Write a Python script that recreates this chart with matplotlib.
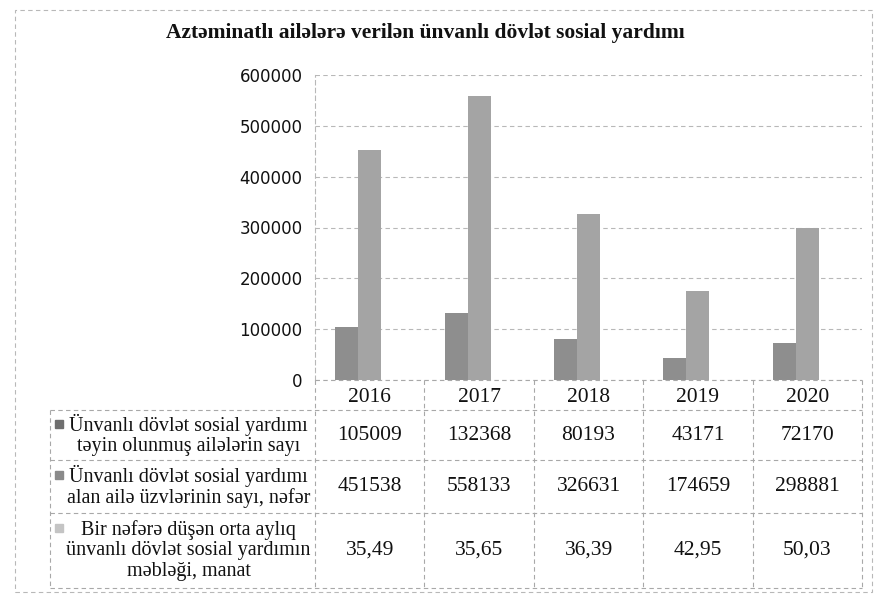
import matplotlib.pyplot as plt
from matplotlib.patches import Rectangle
from matplotlib.lines import Line2D

# data
years = ["2016", "2017", "2018", "2019", "2020"]
aile_sayi = [105009, 132368, 80193, 43171, 72170]
uzv_sayi = [451538, 558133, 326631, 174659, 298881]
orta_mebleg = [35.49, 35.65, 36.39, 42.95, 50.03]
series_labels = [
    "Ünvanlı dövlət sosial yardımı\ntəyin olunmuş ailələrin sayı",
    "Ünvanlı dövlət sosial yardımı\nalan ailə üzvlərinin sayı, nəfər",
    "Bir nəfərə düşən orta aylıq\nünvanlı dövlət sosial yardımın\nməbləği, manat",
]
yticks = [0, 100000, 200000, 300000, 400000, 500000, 600000]
title = "Aztəminatlı ailələrə verilən ünvanlı dövlət sosial yardımı"

colors = ["#8e8e8e", "#a4a4a4", "#cdcdcd"]
marker_colors = ["#6f6f6f", "#8a8a8a", "#c4c4c4"]
grid_c = "#b8b8b8"
serif = ["Liberation Serif", "DejaVu Serif"]

W, H = 879, 599
fig = plt.figure(figsize=(W / 100, H / 100), dpi=100)
fig.patch.set_facecolor("white")

def fx(x):
    return x / W

def fy(y):
    return 1 - y / H

# plot area in pixels
x0, x1 = 315, 862
y_top, y_bot = 75, 380
ax = fig.add_axes([fx(x0), fy(y_bot), (x1 - x0) / W, (y_bot - y_top) / H])

n = len(years)
bw = 0.21
pos = list(range(n))
ax.bar([p - bw for p in pos], aile_sayi, width=bw, color=colors[0], zorder=3)
ax.bar(pos, uzv_sayi, width=bw, color=colors[1], zorder=3)
ax.bar([p + bw for p in pos], orta_mebleg, width=bw, color=colors[2], zorder=3)

ax.set_xlim(-0.5, n - 0.5)
ax.set_ylim(0, 600000)
ax.set_yticks(yticks)
ax.set_yticklabels([str(t) for t in yticks], fontsize=12, family="DejaVu Sans",
                   color="#111111")
ax.set_xticks([])
ax.tick_params(axis="y", length=0, pad=9)
for s in ["top", "right", "bottom"]:
    ax.spines[s].set_visible(False)
ax.spines["left"].set_color(grid_c)
ax.spines["left"].set_linestyle((0, (4, 3)))
ax.spines["left"].set_linewidth(0.8)
ax.yaxis.grid(True, color=grid_c, linestyle=(0, (4, 3)), linewidth=0.8, zorder=0)
ax.set_facecolor("none")

# data table below the chart
col_w = (x1 - x0) / n
col_edges = [x0 + k * col_w for k in range(n + 1)]
lab_left = 50
row_edges = [380, 410, 460, 513, 588]
line_kw = dict(color="#a8a8a8", linewidth=0.8, linestyle=(0, (4, 3)))

def hline(y, xa, xb):
    fig.add_artist(Line2D([fx(xa), fx(xb)], [fy(y), fy(y)], **line_kw))

def vline(x, ya, yb):
    fig.add_artist(Line2D([fx(x), fx(x)], [fy(ya), fy(yb)], **line_kw))

hline(row_edges[0], x0, x1)
for y in row_edges[1:]:
    hline(y, lab_left, x1)
for x in col_edges:
    vline(x, row_edges[0], row_edges[-1])
vline(lab_left, row_edges[1], row_edges[-1])

txt_kw = dict(family=serif, fontsize=14.5, color="#111111", ha="center", va="center")
num_kw = dict(txt_kw, fontsize=15.5)
for k, yr in enumerate(years):
    cx = (col_edges[k] + col_edges[k + 1]) / 2
    fig.text(fx(cx), fy((row_edges[0] + row_edges[1]) / 2 + 2), yr, **num_kw)

row_values = [
    [str(v) for v in aile_sayi],
    [str(v) for v in uzv_sayi],
    [f"{v:.2f}".replace(".", ",") for v in orta_mebleg],
]
line_h = 22.5
lab_cx = (lab_left + x0) / 2 + 6
for r in range(3):
    cy = (row_edges[r + 1] + row_edges[r + 2]) / 2
    for k in range(n):
        cx = (col_edges[k] + col_edges[k + 1]) / 2
        fig.text(fx(cx), fy(cy), row_values[r][k], **num_kw)
    fig.text(fx(lab_cx), fy(cy), series_labels[r], linespacing=1.1, **txt_kw)
    nl = series_labels[r].count("\n") + 1
    my = cy - (nl - 1) / 2 * line_h
    fig.add_artist(Rectangle((fx(55), fy(my + 4)), 8 / W, 8 / H,
                             color=marker_colors[r], transform=fig.transFigure))

# title
fig.text(fx(425), fy(33), title, family=serif, fontsize=15.5, fontweight="bold",
         ha="center", va="center", color="#111111")

# outer border
fig.add_artist(Rectangle((fx(15), fy(592)), 857 / W, 582 / H, fill=False,
                         edgecolor="#b8b8b8", linewidth=0.8, linestyle=(0, (4, 3)),
                         transform=fig.transFigure))

fig.savefig("out.png", dpi=100)
